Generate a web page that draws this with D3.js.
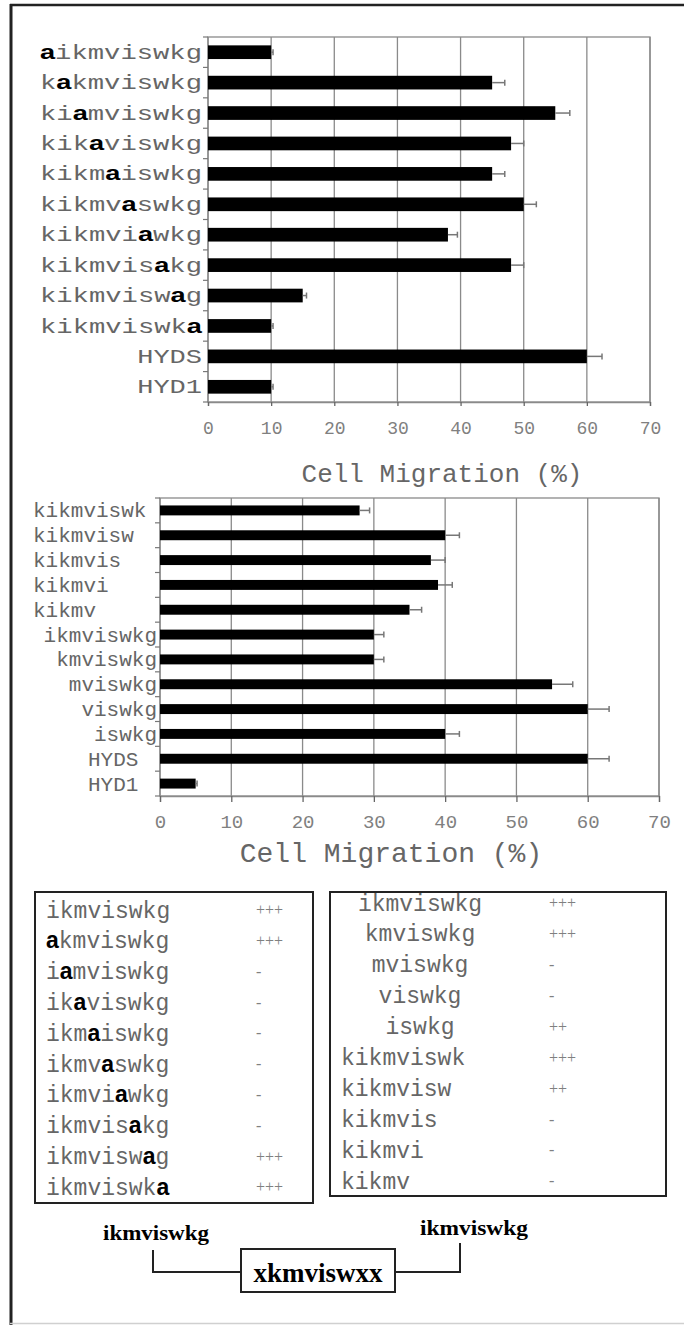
<!DOCTYPE html>
<html>
<head>
<meta charset="utf-8">
<script src="https://cdn.jsdelivr.net/npm/d3@7"></script>
<style>
  body { margin: 0; background: #fff; }
  svg { display: block; }
</style>
</head>
<body>
<div id="figure"></div>
<script>
// ---- data ----
const peptides1 = ["aikmviswkg", "kakmviswkg", "kiamviswkg", "kikaviswkg", "kikmaiswkg", "kikmvaswkg",
  "kikmviawkg", "kikmvisakg", "kikmviswag", "kikmviswka", "HYDS", "HYD1"];
const alaPos1 = [0, 1, 2, 3, 4, 5, 6, 7, 8, 9, -1, -1];
const migration1 = [10, 45, 55, 48, 45, 50, 38, 48, 15, 10, 60, 10];
const error1 = [0.3, 2, 2.3, 2, 2, 2, 1.5, 2, 0.6, 0.3, 2.4, 0.3];

const peptides2 = ["kikmviswk", "kikmvisw", "kikmvis", "kikmvi", "kikmv", "ikmviswkg",
  "kmviswkg", "mviswkg", "viswkg", "iswkg", "HYDS", "HYD1"];
const migration2 = [28, 40, 38, 39, 35, 30, 30, 55, 60, 40, 60, 5];
const error2 = [1.4, 2, 2, 2, 1.7, 1.4, 1.4, 2.9, 3, 2, 3, 0.2];

const xTicks = [0, 10, 20, 30, 40, 50, 60, 70];
const axisTitle = "Cell Migration (%)";

const tableLeftPeptides = ["ikmviswkg", "akmviswkg", "iamviswkg", "ikaviswkg", "ikmaiswkg",
  "ikmvaswkg", "ikmviawkg", "ikmvisakg", "ikmviswag", "ikmviswka"];
const tableLeftAlaPos = [-1, 0, 1, 2, 3, 4, 5, 6, 7, 8];
const tableLeftActivity = ["+++", "+++", "-", "-", "-", "-", "-", "-", "+++", "+++"];

const tableRightPeptides = ["ikmviswkg", "kmviswkg", "mviswkg", "viswkg", "iswkg",
  "kikmviswk", "kikmvisw", "kikmvis", "kikmvi", "kikmv"];
const tableRightActivity = ["+++", "+++", "-", "-", "++", "+++", "++", "-", "-", "-"];

const schemeFlank = "ikmviswkg";
const schemeCore = "xkmviswxx";

// ---- setup ----
const W = 684, H = 1325;
const mono = "'Liberation Mono', 'Courier New', monospace";
const serif = "'Liberation Serif', 'Times New Roman', serif";
const sans = "'Liberation Sans', Arial, sans-serif";

const svg = d3.select("#figure").append("svg")
  .attr("width", W)
  .attr("height", H);

// outer frame (left + top dark, bottom light)
svg.append("line").attr("x1", 11).attr("x2", 11).attr("y1", 4).attr("y2", H)
  .attr("stroke", "#222").attr("stroke-width", 3);
svg.append("line").attr("x1", 10).attr("x2", W).attr("y1", 5).attr("y2", 5)
  .attr("stroke", "#222").attr("stroke-width", 2.5);
svg.append("line").attr("x1", 10).attr("x2", W).attr("y1", H - 1.5).attr("y2", H - 1.5)
  .attr("stroke", "#d0d0d0").attr("stroke-width", 1.5);

// text with one bold alanine letter
function alaText(sel, str, pos) {
  if (pos < 0) { sel.append("tspan").text(str); return; }
  if (pos > 0) sel.append("tspan").text(str.slice(0, pos));
  sel.append("tspan").text(str[pos])
    .attr("font-family", sans).attr("font-weight", "bold").attr("fill", "#000");
  if (pos < str.length - 1) sel.append("tspan").text(str.slice(pos + 1));
}

function drawChart(cfg) {
  const x = d3.scaleLinear().domain([0, 70]).range(cfg.xRange);
  const y = d3.scaleBand().domain(cfg.labels).range(cfg.yRange)
    .paddingInner(cfg.pad).paddingOuter(cfg.pad / 2);
  const g = svg.append("g");

  // grid
  g.selectAll(".grid").data(xTicks).join("line")
    .attr("x1", d => x(d)).attr("x2", d => x(d))
    .attr("y1", cfg.yRange[0]).attr("y2", cfg.yRange[1])
    .attr("stroke", "#8a8a8a").attr("stroke-width", 1.3);

  // plot frame
  g.append("rect")
    .attr("x", cfg.xRange[0]).attr("y", cfg.yRange[0])
    .attr("width", cfg.xRange[1] - cfg.xRange[0])
    .attr("height", cfg.yRange[1] - cfg.yRange[0])
    .attr("fill", "none").attr("stroke", "#8a8a8a").attr("stroke-width", 1.3);

  // x axis
  const ax = g.append("g")
    .attr("transform", "translate(0," + cfg.yRange[1] + ")")
    .call(d3.axisBottom(x).tickValues(xTicks).tickSize(cfg.tickLen).tickPadding(cfg.tickPad));
  ax.select(".domain").attr("stroke", "#8a8a8a").attr("stroke-width", 1.3);
  ax.selectAll(".tick line").attr("stroke", "#666").attr("stroke-width", 1.3);
  ax.selectAll(".tick text")
    .attr("font-family", mono).attr("font-size", cfg.tickFont).attr("fill", "#808080");

  // y tick marks at band boundaries
  const off = (y.step() - y.bandwidth()) / 2;
  const bounds = cfg.labels.map(d => y(d) - off).concat([y(cfg.labels[cfg.labels.length - 1]) + y.bandwidth() + off]);
  g.selectAll(".ytick").data(bounds).join("line")
    .attr("x1", cfg.xRange[0] - 5).attr("x2", cfg.xRange[0])
    .attr("y1", d => d).attr("y2", d => d)
    .attr("stroke", "#777").attr("stroke-width", 1.2);

  // bars
  g.selectAll(".bar").data(cfg.labels).join("rect")
    .attr("x", x(0))
    .attr("y", d => y(d))
    .attr("width", (d, i) => x(cfg.values[i]) - x(0))
    .attr("height", y.bandwidth())
    .attr("fill", "#000");

  // error bars
  const eb = g.selectAll(".err").data(cfg.labels).join("g");
  eb.append("line")
    .attr("x1", (d, i) => x(cfg.values[i])).attr("x2", (d, i) => x(cfg.values[i] + cfg.errors[i]))
    .attr("y1", d => y(d) + y.bandwidth() / 2).attr("y2", d => y(d) + y.bandwidth() / 2)
    .attr("stroke", "#777").attr("stroke-width", 1.5);
  eb.append("line")
    .attr("x1", (d, i) => x(cfg.values[i] + cfg.errors[i])).attr("x2", (d, i) => x(cfg.values[i] + cfg.errors[i]))
    .attr("y1", d => y(d) + y.bandwidth() / 2 - 3).attr("y2", d => y(d) + y.bandwidth() / 2 + 3)
    .attr("stroke", "#777").attr("stroke-width", 1.5);

  // category labels
  cfg.labels.forEach((d, i) => {
    const t = g.append("text")
      .attr("y", y(d) + y.bandwidth() / 2)
      .attr("dy", "0.33em")
      .attr("font-family", mono).attr("font-size", cfg.labelFont).attr("fill", "#666");
    cfg.placeLabel(t, d, i);
  });

  // axis title
  g.append("text")
    .attr("x", cfg.titleX).attr("y", cfg.titleY)
    .attr("text-anchor", "middle")
    .attr("font-family", mono).attr("font-size", cfg.titleFont).attr("fill", "#666")
    .text(axisTitle);
}

// chart 1: alanine scan
drawChart({
  labels: peptides1, values: migration1, errors: error1,
  xRange: [208, 650], yRange: [37, 402], pad: 0.55,
  tickLen: 4, tickPad: 15, tickFont: 18,
  labelFont: 20, titleFont: 26, titleX: 442, titleY: 482,
  placeLabel: (t, d, i) => {
    t.attr("x", 202).attr("text-anchor", "end");
    alaText(t, d, alaPos1[i]);
    t.attr("textLength", d.length * 16.2).attr("lengthAdjust", "spacingAndGlyphs");
  }
});

// chart 2: truncations
drawChart({
  labels: peptides2, values: migration2, errors: error2,
  xRange: [160, 659], yRange: [498, 796], pad: 0.6,
  tickLen: 6, tickPad: 13, tickFont: 19,
  labelFont: 21, titleFont: 28, titleX: 391, titleY: 862,
  placeLabel: (t, d) => {
    if (d.startsWith("HYD")) t.attr("x", 88).attr("text-anchor", "start");
    else if (d.startsWith("kikm")) t.attr("x", 33).attr("text-anchor", "start");
    else t.attr("x", 157).attr("text-anchor", "end");
    t.text(d);
  }
});

// ---- tables ----
function drawTable(box, peptides, activity, opts) {
  svg.append("rect")
    .attr("x", box.x).attr("y", box.y).attr("width", box.w).attr("height", box.h)
    .attr("fill", "none").attr("stroke", "#222").attr("stroke-width", 2);
  const rowY = d3.scaleLinear().domain([0, 1]).range([opts.y0, opts.y0 + opts.step]);
  peptides.forEach((p, i) => {
    const t = svg.append("text")
      .attr("y", rowY(i)).attr("dy", "0.33em")
      .attr("font-family", mono).attr("font-size", 23).attr("fill", "#666");
    opts.place(t, p, i);
    svg.append("text")
      .attr("x", opts.actX).attr("y", rowY(i)).attr("dy", "0.33em")
      .attr("font-family", serif).attr("font-size", 16).attr("fill", "#808080")
      .text(activity[i]);
  });
}

drawTable({ x: 35, y: 892, w: 278, h: 311 }, tableLeftPeptides, tableLeftActivity, {
  y0: 910, step: 30.8, actX: 256,
  place: (t, p, i) => { t.attr("x", 46); alaText(t, p, tableLeftAlaPos[i]); }
});

drawTable({ x: 330, y: 892, w: 336, h: 304 }, tableRightPeptides, tableRightActivity, {
  y0: 903, step: 30.9, actX: 549,
  place: (t, p) => {
    if (p.startsWith("kikm")) t.attr("x", 341).attr("text-anchor", "start");
    else t.attr("x", 420).attr("text-anchor", "middle");
    t.text(p);
  }
});

// ---- cyclic scheme ----
const scheme = svg.append("g").attr("fill", "none").attr("stroke", "#222").attr("stroke-width", 2);
scheme.append("path").attr("d", "M153,1250 V1272 H241");
scheme.append("rect").attr("x", 241).attr("y", 1249).attr("width", 154).attr("height", 43);
scheme.append("path").attr("d", "M395,1272 H460 V1243");

svg.append("text").attr("x", 103).attr("y", 1233).attr("dy", "0.3em")
  .attr("font-family", serif).attr("font-weight", "bold").attr("font-size", 22)
  .attr("textLength", 106).attr("lengthAdjust", "spacingAndGlyphs")
  .text(schemeFlank);
svg.append("text").attr("x", 420).attr("y", 1228).attr("dy", "0.3em")
  .attr("font-family", serif).attr("font-weight", "bold").attr("font-size", 22)
  .attr("textLength", 108).attr("lengthAdjust", "spacingAndGlyphs")
  .text(schemeFlank);
svg.append("text").attr("x", 318).attr("y", 1273).attr("dy", "0.33em")
  .attr("text-anchor", "middle")
  .attr("font-family", serif).attr("font-weight", "bold").attr("font-size", 27)
  .text(schemeCore);
</script>
</body>
</html>
